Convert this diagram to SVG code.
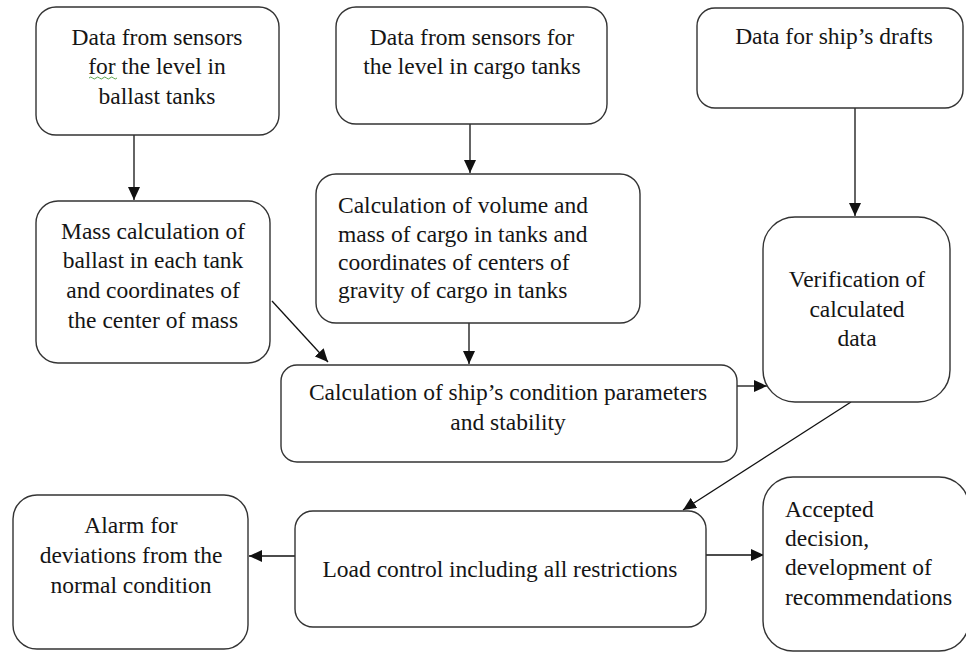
<svg xmlns="http://www.w3.org/2000/svg" width="966" height="654" viewBox="0 0 966 654">
<style>
.box{fill:#fff;stroke:#333;stroke-width:1.4}
.t{font-family:'Liberation Serif','DejaVu Serif',serif;font-size:23.5px;fill:#151515}
.c{text-anchor:middle}
.con{stroke:#111;stroke-width:1.3;fill:none;marker-end:url(#ah)}
</style>
<defs>
<marker id="ah" markerUnits="userSpaceOnUse" markerWidth="14" markerHeight="12" refX="13" refY="6" orient="auto">
<path d="M0,0 L13,6 L0,12 Z" fill="#111"/>
</marker>
</defs>
<rect width="966" height="654" fill="#fff"/>
<g id="connectors">
<line class="con" x1="134" y1="135" x2="134" y2="200"/>
<line class="con" x1="470" y1="124" x2="470" y2="173"/>
<line class="con" x1="855" y1="108" x2="855" y2="216"/>
<line class="con" x1="272" y1="301" x2="328" y2="362"/>
<line class="con" x1="469" y1="323" x2="469" y2="364"/>
<line class="con" x1="737" y1="386" x2="767" y2="386"/>
<line class="con" x1="851" y1="402" x2="683" y2="510"/>
<line class="con" x1="295" y1="556" x2="249" y2="556"/>
<line class="con" x1="706" y1="555" x2="764" y2="555"/>
</g>
<g id="n1">
<rect class="box" x="36" y="7" width="243" height="128" rx="20"/>
<text class="t c" x="157" y="45" font-family="Liberation Serif, DejaVu Serif, serif">Data from sensors</text>
<text class="t c" x="157" y="74">for the level in</text>
<text class="t c" x="157" y="104">ballast tanks</text>
<path d="M89,78 q1.75,-2 3.5,0 t3.5,0 t3.5,0 t3.5,0 t3.5,0 t3.5,0 t3.5,0 t3.5,0" fill="none" stroke="#4a9a3a" stroke-width="0.9"/>
</g>
<g id="n2">
<rect class="box" x="336" y="7" width="271" height="117" rx="20"/>
<text class="t c" x="472" y="45">Data from sensors for</text>
<text class="t c" x="472" y="74">the level in cargo tanks</text>
</g>
<g id="n3">
<rect class="box" x="697" y="8" width="266" height="100" rx="18"/>
<text class="t c" x="834" y="44">Data for ship’s drafts</text>
</g>
<g id="n4">
<rect class="box" x="36" y="201" width="234" height="162" rx="22"/>
<text class="t c" x="153" y="239">Mass calculation of</text>
<text class="t c" x="153" y="268">ballast in each tank</text>
<text class="t c" x="153" y="298">and coordinates of</text>
<text class="t c" x="153" y="328">the center of mass</text>
</g>
<g id="n5">
<rect class="box" x="316" y="174" width="324" height="149" rx="20"/>
<text class="t" x="338" y="213">Calculation of volume and</text>
<text class="t" x="338" y="242">mass of cargo in tanks and</text>
<text class="t" x="338" y="270">coordinates of centers of</text>
<text class="t" x="338" y="298">gravity of cargo in tanks</text>
</g>
<g id="n6">
<rect class="box" x="281" y="365" width="456" height="97" rx="16"/>
<text class="t c" x="508" y="400">Calculation of ship’s condition parameters</text>
<text class="t c" x="508" y="430">and stability</text>
</g>
<g id="n7">
<rect class="box" x="763" y="217" width="187" height="185" rx="32"/>
<text class="t c" x="857" y="287">Verification of</text>
<text class="t c" x="857" y="317">calculated</text>
<text class="t c" x="857" y="346">data</text>
</g>
<g id="n8">
<rect class="box" x="295" y="511" width="411" height="116" rx="18"/>
<text class="t c" x="500" y="577">Load control including all restrictions</text>
</g>
<g id="n9">
<rect class="box" x="13" y="495" width="235" height="154" rx="24"/>
<text class="t c" x="131" y="533">Alarm for</text>
<text class="t c" x="131" y="563">deviations from the</text>
<text class="t c" x="131" y="593">normal condition</text>
</g>
<g id="n10">
<rect class="box" x="763" y="477" width="206" height="174" rx="30"/>
<text class="t" x="785" y="517">Accepted</text>
<text class="t" x="785" y="546">decision,</text>
<text class="t" x="785" y="575">development of</text>
<text class="t" x="785" y="605">recommendations</text>
</g>
</svg>
